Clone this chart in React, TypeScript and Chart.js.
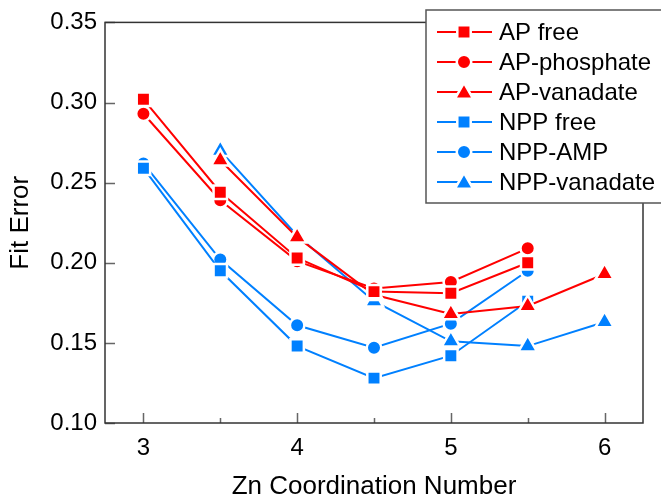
import React, { useEffect, useRef } from 'react';
import { Chart, registerables } from 'chart.js';
Chart.register(...registerables);

const RED = 'rgb(255,0,0)';
const BLUE = 'rgb(0,128,255)';
const FONT = "'Liberation Sans', Arial, sans-serif";

const seriesNames = ['AP free', 'AP-phosphate', 'AP-vanadate', 'NPP free', 'NPP-AMP', 'NPP-vanadate'];
const xA = [3, 3.5, 4, 4.5, 5, 5.5];
const xB = [3.5, 4, 4.5, 5, 5.5, 6];
const apFree = [0.302, 0.244, 0.203, 0.182, 0.181, 0.2];
const apPhosphate = [0.293, 0.239, 0.201, 0.184, 0.188, 0.209];
const apVanadate = [0.264, 0.216, 0.18, 0.168, 0.173, 0.193];
const nppFree = [0.259, 0.195, 0.148, 0.128, 0.142, 0.176];
const nppAmp = [0.262, 0.202, 0.161, 0.147, 0.162, 0.195];
const nppVanadate = [0.27, 0.217, 0.176, 0.151, 0.148, 0.163];
const xTicks = [3, 4, 5, 6];
const xMinorTicks = [3.5, 4.5, 5.5];
const yTicks = [0.1, 0.15, 0.2, 0.25, 0.3, 0.35];
const xTitle = 'Zn Coordination Number';
const yTitle = 'Fit Error';

const RING = 2.5;
const radiusFor: Record<string, number> = { rect: 9.5, circle: 7.25, triangle: 10.6 };

const seriesDefs = [
  { name: seriesNames[0], xs: xA, ys: apFree, color: RED, style: 'rect' },
  { name: seriesNames[1], xs: xA, ys: apPhosphate, color: RED, style: 'circle' },
  { name: seriesNames[2], xs: xB, ys: apVanadate, color: RED, style: 'triangle' },
  { name: seriesNames[3], xs: xA, ys: nppFree, color: BLUE, style: 'rect' },
  { name: seriesNames[4], xs: xA, ys: nppAmp, color: BLUE, style: 'circle' },
  { name: seriesNames[5], xs: xB, ys: nppVanadate, color: BLUE, style: 'triangle' },
];

function drawMarker(ctx: CanvasRenderingContext2D, style: string, x: number, y: number, color: string) {
  const r = radiusFor[style];
  ctx.save();
  ctx.beginPath();
  if (style === 'rect') {
    const s = Math.SQRT1_2 * r;
    ctx.rect(x - s, y - s, 2 * s, 2 * s);
  } else if (style === 'circle') {
    ctx.arc(x, y, r, 0, Math.PI * 2);
  } else {
    let rad = 0;
    ctx.moveTo(x + Math.sin(rad) * r, y - Math.cos(rad) * r);
    rad += (2 * Math.PI) / 3;
    ctx.lineTo(x + Math.sin(rad) * r, y - Math.cos(rad) * r);
    rad += (2 * Math.PI) / 3;
    ctx.lineTo(x + Math.sin(rad) * r, y - Math.cos(rad) * r);
    ctx.closePath();
  }
  ctx.fillStyle = color;
  ctx.fill();
  ctx.lineWidth = RING;
  ctx.strokeStyle = '#fff';
  ctx.stroke();
  ctx.restore();
}

const framePlugin = {
  id: 'frame',
  beforeDatasetsDraw(chart: any) {
    const { ctx, chartArea } = chart;
    const { left, right, top, bottom } = chartArea;
    const xs = chart.scales.x;
    const ys = chart.scales.y;
    ctx.save();
    ctx.strokeStyle = '#666';
    ctx.lineWidth = 1.5;
    ctx.beginPath();
    xTicks.forEach((v) => {
      const px = Math.round(xs.getPixelForValue(v)) + 0.5;
      ctx.moveTo(px, bottom);
      ctx.lineTo(px, bottom - 10);
    });
    xMinorTicks.forEach((v) => {
      const px = Math.round(xs.getPixelForValue(v)) + 0.5;
      ctx.moveTo(px, bottom);
      ctx.lineTo(px, bottom - 5);
    });
    yTicks.forEach((v) => {
      const py = Math.round(ys.getPixelForValue(v)) + 0.5;
      ctx.moveTo(left, py);
      ctx.lineTo(left + 10, py);
    });
    ctx.stroke();
    ctx.strokeStyle = '#333';
    ctx.lineWidth = 1.5;
    ctx.strokeRect(left, top, right - left, bottom - top);
    ctx.restore();
  },
  afterDraw(chart: any) {
    const { ctx } = chart;
    const bx = 426, by = 10, bw = 260, bh = 193;
    ctx.save();
    ctx.fillStyle = '#fff';
    ctx.fillRect(bx, by, bw, bh);
    ctx.strokeStyle = '#555';
    ctx.lineWidth = 1.5;
    ctx.strokeRect(bx, by, bw, bh);
    ctx.font = `24px ${FONT}`;
    ctx.textBaseline = 'middle';
    ctx.textAlign = 'left';
    seriesDefs.forEach((s, i) => {
      const cy = 32 + i * 30;
      ctx.strokeStyle = s.color;
      ctx.lineWidth = 2;
      ctx.beginPath();
      ctx.moveTo(437, cy);
      ctx.lineTo(492, cy);
      ctx.stroke();
      drawMarker(ctx, s.style, 464, cy + (s.style === 'triangle' ? 1.5 : 0), s.color);
      ctx.fillStyle = '#000';
      ctx.fillText(s.name, 499, cy + 1);
    });
    ctx.restore();
  },
};

export default function App() {
  const ref = useRef<HTMLCanvasElement>(null);
  useEffect(() => {
    document.body.style.margin = '0';
    const datasets = seriesDefs.map((s) => ({
      label: s.name,
      data: s.xs.map((x, i) => ({ x, y: s.ys[i] })),
      borderColor: s.color,
      backgroundColor: s.color,
      borderWidth: 2,
      pointStyle: s.style,
      pointRadius: radiusFor[s.style],
      pointBackgroundColor: s.color,
      pointBorderColor: '#fff',
      pointBorderWidth: RING,
      tension: 0,
      clip: false,
    }));
    const chart = new Chart(ref.current!, {
      type: 'line',
      data: { datasets },
      options: {
        animation: false,
        responsive: false,
        maintainAspectRatio: false,
        layout: { padding: { left: 0, top: 22, right: 18, bottom: 0 } },
        plugins: { legend: { display: false }, tooltip: { enabled: false } },
        scales: {
          x: {
            type: 'linear',
            min: 2.75,
            max: 6.25,
            grid: { display: false, drawTicks: false },
            border: { display: false },
            afterBuildTicks: (scale: any) => {
              scale.ticks = xTicks.map((v) => ({ value: v }));
            },
            afterFit: (scale: any) => {
              scale.height = 75;
            },
            ticks: {
              padding: 11,
              color: '#000',
              font: { family: FONT, size: 24 },
              maxRotation: 0,
              callback: (v: any) => String(v),
            },
            title: {
              display: true,
              text: xTitle,
              color: '#000',
              font: { family: FONT, size: 26, lineHeight: 1 },
              padding: { top: 0, bottom: -2 },
            },
          },
          y: {
            type: 'linear',
            min: 0.1,
            max: 0.35,
            grid: { display: false, drawTicks: false },
            border: { display: false },
            afterBuildTicks: (scale: any) => {
              scale.ticks = yTicks.map((v) => ({ value: v }));
            },
            afterFit: (scale: any) => {
              scale.width = 105;
            },
            ticks: {
              padding: 8,
              color: '#000',
              font: { family: FONT, size: 24 },
              callback: (v: any) => Number(v).toFixed(2),
            },
            title: {
              display: true,
              text: yTitle,
              color: '#000',
              font: { family: FONT, size: 26, lineHeight: 1 },
              padding: { top: 8, bottom: 0 },
            },
          },
        },
      },
      plugins: [framePlugin],
    } as any);
    return () => chart.destroy();
  }, []);
  return (
    <div style={{ width: 661, height: 498 }}>
      <canvas ref={ref} width={661} height={498} style={{ width: 661, height: 498, display: 'block' }} />
    </div>
  );
}
